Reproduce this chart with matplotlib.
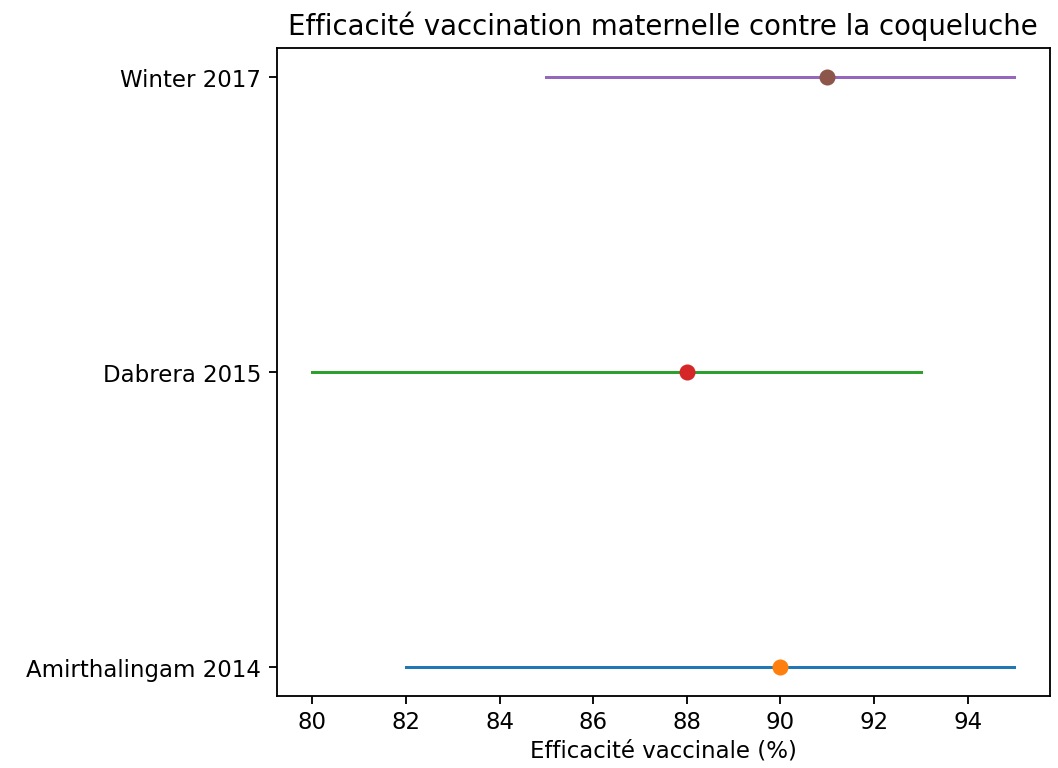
import matplotlib
matplotlib.use("Agg")
from matplotlib import pyplot as plt

studies = ["Amirthalingam 2014", "Dabrera 2015", "Winter 2017"]
estimates = [90, 88, 91]
lower = [82, 80, 85]
upper = [95, 93, 95]

dpi = 165
fig = plt.figure(figsize=(1058 / dpi, 769 / dpi), dpi=dpi)
ax = fig.add_axes([0.262, 0.0936, 0.730, 0.843])

for i, name in enumerate(studies):
    ax.plot([lower[i], upper[i]], [i, i], lw=1.3)
    ax.plot(estimates[i], i, "o")

ax.set_yticks(range(len(studies)))
ax.set_yticklabels(studies)
ax.tick_params(axis="x", pad=2.5)
ax.set_xlabel("Efficacité vaccinale (%)", labelpad=2.5)
ax.set_title("Efficacité vaccination maternelle contre la coqueluche")

fig.savefig("out.png", dpi=dpi)
